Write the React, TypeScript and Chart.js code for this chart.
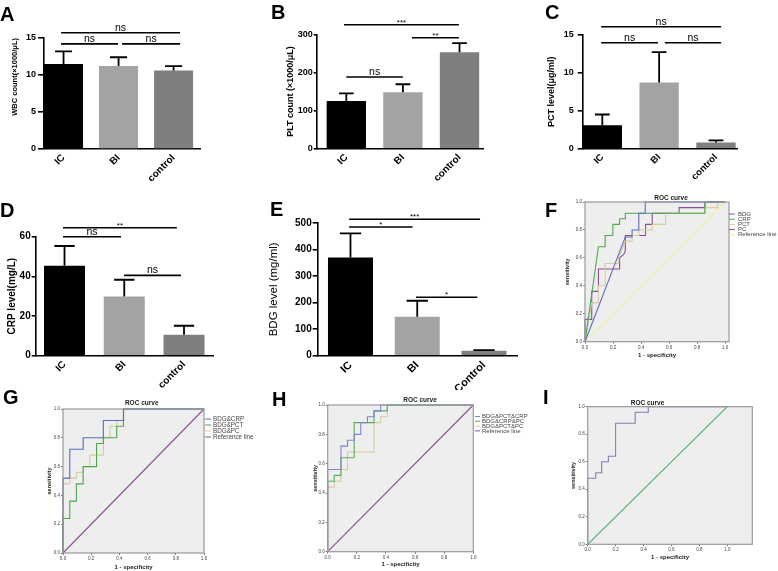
import React, { useEffect, useRef } from 'react';
import { Chart, registerables } from 'chart.js';
Chart.register(...registerables);

const FONT = "'Liberation Sans', Arial, sans-serif";

// ---------- bar panel data ----------
const groups = ['IC', 'BI', 'control'];
const groupsE = ['IC', 'BI', 'Control'];
const wbcMean = [11.5, 11.2, 10.6];
const wbcUpper = [13.2, 12.4, 11.2];
const pltMean = [125, 148, 253];
const pltUpper = [145, 169, 277];
const pctMean = [3.1, 8.7, 0.8];
const pctUpper = [4.5, 12.7, 1.1];
const crpMean = [45.4, 29.8, 10.6];
const crpUpper = [55.3, 38.3, 15.1];
const bdgMean = [370, 147, 19];
const bdgUpper = [461, 207, 21];

const wbcTicks = [0, 5, 10, 15];
const pltTicks = [0, 100, 200, 300];
const pctTicks = [0, 5, 10, 15];
const crpTicks = [0, 20, 40, 60];
const bdgTicks = [0, 100, 200, 300, 400, 500];

type Sig = [number, number, number, string];
const wbcSig: Sig[] = [[-0.045, 2.118, 15.7, 'ns'], [-0.045, 0.99, 14.2, 'ns'], [1.064, 2.118, 14.2, 'ns']];
const pltSig: Sig[] = [[-0.04, 1.99, 325, '***'], [1.16, 1.99, 291, '**'], [0, 1.0, 188, 'ns']];
const pctSig: Sig[] = [[-0.02, 2.09, 16.05, 'ns'], [-0.02, 0.98, 13.95, 'ns'], [1.1, 2.09, 13.95, 'ns']];
const crpSig: Sig[] = [[-0.025, 1.88, 64.5, '**'], [-0.025, 0.946, 60, 'ns'], [0.996, 1.95, 40.5, 'ns']];
const bdgSig: Sig[] = [[-0.02, 1.94, 514, '***'], [-0.02, 0.93, 485, '*'], [0.98, 1.9, 220, '*']];

// ---------- ROC data ----------
type Pt = [number, number];
const rocTicks = [0, 0.2, 0.4, 0.6, 0.8, 1.0];
const refLine: Pt[] = [[0, 0], [1, 1]];

const rocF_BDG: Pt[] = [[0, 0], [0.288, 0.75], [0.336, 0.75], [0.336, 0.8], [0.384, 0.8], [0.384, 0.92], [0.43, 0.92], [0.43, 1], [1, 1]];
const rocF_CRP: Pt[] = [[0, 0], [0.096, 0.68], [0.144, 0.68], [0.144, 0.76], [0.199, 0.76], [0.199, 0.84], [0.247, 0.84], [0.247, 0.88], [0.288, 0.88], [0.288, 0.92], [0.856, 0.92], [0.856, 1], [1, 1]];
const rocF_PCT: Pt[] = [[0, 0], [0.048, 0.28], [0.096, 0.28], [0.096, 0.4], [0.144, 0.4], [0.144, 0.56], [0.24, 0.56], [0.24, 0.6], [0.288, 0.72], [0.336, 0.72], [0.336, 0.76], [0.384, 0.76], [0.384, 0.8], [0.48, 0.8], [0.48, 0.84], [0.576, 0.84], [0.576, 0.92], [0.856, 0.92], [0.856, 0.96], [0.947, 0.96], [0.947, 1], [1, 1]];
const rocF_PC: Pt[] = [[0, 0], [0, 0.16], [0.048, 0.16], [0.048, 0.36], [0.096, 0.36], [0.096, 0.52], [0.247, 0.52], [0.247, 0.6], [0.276, 0.625], [0.288, 0.65], [0.288, 0.76], [0.432, 0.76], [0.432, 0.84], [0.48, 0.84], [0.48, 0.92], [0.672, 0.92], [0.672, 0.96], [0.856, 0.96], [0.856, 1], [1, 1]];

const rocG_BDG_CRP: Pt[] = [[0, 0], [0, 0.52], [0.048, 0.52], [0.048, 0.72], [0.143, 0.72], [0.143, 0.8], [0.286, 0.8], [0.286, 0.92], [0.429, 0.92], [0.429, 1], [1, 1]];
const rocG_BDG_PCT: Pt[] = [[0, 0], [0, 0.24], [0.048, 0.24], [0.048, 0.36], [0.095, 0.36], [0.095, 0.48], [0.143, 0.48], [0.143, 0.6], [0.238, 0.6], [0.238, 0.76], [0.286, 0.76], [0.286, 0.8], [0.381, 0.8], [0.381, 0.88], [0.429, 0.88], [0.429, 1], [1, 1]];
const rocG_BDG_PC: Pt[] = [[0, 0], [0, 0.48], [0.048, 0.48], [0.048, 0.52], [0.095, 0.52], [0.095, 0.56], [0.143, 0.56], [0.143, 0.6], [0.19, 0.6], [0.19, 0.68], [0.286, 0.68], [0.286, 0.8], [0.333, 0.8], [0.333, 0.88], [0.381, 0.88], [0.381, 0.92], [0.429, 0.92], [0.429, 1], [1, 1]];

const rocH_BDG_PCT_CRP: Pt[] = [[0, 0], [0, 0.56], [0.091, 0.56], [0.091, 0.72], [0.136, 0.72], [0.136, 0.76], [0.182, 0.76], [0.182, 0.8], [0.227, 0.8], [0.227, 0.88], [0.273, 0.88], [0.273, 0.92], [0.318, 0.92], [0.318, 0.96], [0.364, 0.96], [0.364, 1], [1, 1]];
const rocH_BDG_CRP_PC: Pt[] = [[0, 0], [0, 0.48], [0.045, 0.48], [0.045, 0.52], [0.091, 0.52], [0.091, 0.64], [0.182, 0.64], [0.182, 0.88], [0.318, 0.88], [0.318, 0.96], [0.409, 0.96], [0.409, 1], [1, 1]];
const rocH_BDG_PCT_PC: Pt[] = [[0, 0], [0, 0.44], [0.045, 0.44], [0.045, 0.48], [0.091, 0.48], [0.091, 0.56], [0.136, 0.56], [0.136, 0.68], [0.318, 0.68], [0.318, 0.88], [0.364, 0.88], [0.364, 0.92], [0.409, 0.92], [0.409, 1], [1, 1]];

const rocI_ALL: Pt[] = [[0, 0], [0, 0.48], [0.057, 0.48], [0.057, 0.52], [0.1, 0.52], [0.1, 0.6], [0.148, 0.6], [0.148, 0.64], [0.2, 0.64], [0.2, 0.88], [0.34, 0.88], [0.34, 0.96], [0.434, 0.96], [0.434, 1], [1, 1]];

const rocLabelsF = ['BDG', 'CRP', 'PCT', 'PC', 'Reference line'];
const rocLabelsG = ['BDG&CRP', 'BDG&PCT', 'BDG&PC', 'Reference line'];
const rocLabelsH = ['BDG&PCT&CRP', 'BDG&CRP&PC', 'BDG&PCT&PC', 'Reference line'];
const rocLabelsI = ['BDG&PCT&CRP&PC', 'Reference line'];

// ---------- styles ----------
const barColors = ['#000000', '#a3a3a5', '#7f7f7f'];
const cBlue = '#5a6cba';
const cGreen = '#4aa94e';
const cTan = '#d8cc9e';
const cPurple = '#8a4f95';
const cYellow = '#eeee9c';

interface BarSpec {
  box: number[]; area: number[]; cats: string[]; mean: number[]; upper: number[]; sig: Sig[];
  yTicks: number[]; xRange: number[]; barPct: number; title: string; titleFont: number;
  titleBold: boolean; titleAlign: string; titleX: number; tickFont: number; xFont: number;
  tickLen: number; tickPad: number; cap: number;
}

function barConfig(s: BarSpec): any {
  const [cl, ct, cw, ch] = s.box;
  const [al, at, ar, ab] = s.area;
  const lh = s.titleFont * 1.2;
  const padLeft = s.titleX - cl - lh / 2 - 1;
  const yWidth = al - cl - padLeft;
  const xHeight = ct + ch - ab;
  const annot = {
    id: 'annot',
    afterDatasetsDraw(chart: any) {
      const xs = chart.scales.x, ys = chart.scales.y, ctx = chart.ctx;
      ctx.save();
      ctx.strokeStyle = '#000';
      ctx.fillStyle = '#000';
      ctx.lineWidth = 1.8;
      s.mean.forEach((m, i) => {
        const px = xs.getPixelForValue(i);
        const half = xs.getPixelForValue(i + s.cap) - px;
        const y0 = ys.getPixelForValue(m);
        const y1 = ys.getPixelForValue(s.upper[i]);
        ctx.beginPath();
        ctx.moveTo(px, y0); ctx.lineTo(px, y1);
        ctx.moveTo(px - half, y1); ctx.lineTo(px + half, y1);
        ctx.stroke();
      });
      ctx.lineWidth = 1.6;
      s.sig.forEach(([a, b, lv, lab]) => {
        const y = ys.getPixelForValue(lv);
        const x1 = xs.getPixelForValue(a), x2 = xs.getPixelForValue(b);
        ctx.beginPath(); ctx.moveTo(x1, y); ctx.lineTo(x2, y); ctx.stroke();
        const star = lab.indexOf('*') >= 0;
        ctx.font = `${star ? 8 : 10.5}px ${FONT}`;
        ctx.textAlign = 'center';
        ctx.textBaseline = 'alphabetic';
        ctx.fillText(lab, (x1 + x2) / 2, y - (star ? 0 : 2));
      });
      ctx.restore();
    },
  };
  return {
    type: 'bar',
    data: {
      datasets: [{
        data: s.mean.map((v, i) => ({ x: i, y: v })),
        backgroundColor: barColors, borderWidth: 0,
        barPercentage: s.barPct, categoryPercentage: 1,
      }],
    },
    options: {
      responsive: false, animation: false, events: [],
      layout: { padding: { left: padLeft, top: at - ct, right: cl + cw - ar, bottom: 0 } },
      plugins: { legend: { display: false }, tooltip: { enabled: false }, title: { display: false } },
      scales: {
        x: {
          type: 'linear', min: s.xRange[0], max: s.xRange[1], offset: false,
          afterBuildTicks: (sc: any) => { sc.ticks = s.cats.map((_, i) => ({ value: i })); },
          afterFit: (sc: any) => { sc.height = xHeight; },
          grid: { display: false, drawTicks: false, offset: false },
          border: { display: true, color: '#000', width: 1.6 },
          ticks: {
            callback: (_v: any, i: number) => s.cats[i], minRotation: 45, maxRotation: 45,
            autoSkip: false, padding: 3, color: '#000',
            font: { family: FONT, size: s.xFont, weight: 'bold' },
          },
        },
        y: {
          type: 'linear', min: 0, max: s.yTicks[s.yTicks.length - 1],
          afterBuildTicks: (sc: any) => { sc.ticks = s.yTicks.map((v) => ({ value: v })); },
          afterFit: (sc: any) => { sc.width = yWidth; },
          grid: { display: true, drawOnChartArea: false, drawTicks: true, tickLength: s.tickLen, color: '#000', lineWidth: 1.6 },
          border: { display: true, color: '#000', width: 1.6 },
          ticks: { padding: s.tickPad, color: '#000', font: { family: FONT, size: s.tickFont, weight: 'bold' } },
          title: {
            display: true, text: s.title, align: s.titleAlign, color: '#000',
            padding: { top: 1, bottom: 0 },
            font: { family: FONT, size: s.titleFont, weight: s.titleBold ? 'bold' : 'normal' },
          },
        },
      },
    },
    plugins: [annot],
  };
}

interface RocSeries { label: string; pts: Pt[]; color: string; }
interface RocSpec {
  box: number[]; area: number[]; xMax: number; series: RocSeries[];
  yTitleX: number; xTitleY: number; titlePos: number[];
  legend: null | { x: number; y: number; dy: number; len: number; gap: number; size: number };
}

function rocConfig(s: RocSpec): any {
  const [cl, ct, cw, ch] = s.box;
  const [al, at, ar, ab] = s.area;
  const ylh = 5.5 * 1.2;
  const padLeft = s.yTitleX - cl - ylh / 2 - 1;
  const yWidth = al - cl - padLeft;
  const xlh = 6 * 1.2;
  const scaleBottom = s.xTitleY + xlh / 2;
  const padBottom = Math.max(0, ct + ch - scaleBottom);
  const xHeight = ct + ch - padBottom - ab;
  const deco = {
    id: 'deco',
    beforeDraw(chart: any) {
      const { ctx, chartArea: a } = chart;
      ctx.save();
      ctx.fillStyle = '#eeeeee';
      ctx.fillRect(a.left, a.top, a.right - a.left, a.bottom - a.top);
      ctx.restore();
    },
    afterDatasetsDraw(chart: any) {
      const { ctx, chartArea: a } = chart;
      ctx.save();
      ctx.strokeStyle = '#9a9a9a';
      ctx.lineWidth = 1.2;
      ctx.strokeRect(a.left, a.top, a.right - a.left, a.bottom - a.top);
      ctx.fillStyle = '#222';
      ctx.font = `bold 6.5px ${FONT}`;
      ctx.textAlign = 'center';
      ctx.textBaseline = 'middle';
      ctx.fillText('ROC curve', s.titlePos[0] - cl, s.titlePos[1] - ct);
      if (s.legend) {
        const L = s.legend;
        ctx.font = `${L.size}px ${FONT}`;
        ctx.textAlign = 'left';
        s.series.forEach((ser, i) => {
          const y = L.y - ct + i * L.dy;
          ctx.strokeStyle = ser.color;
          ctx.lineWidth = 1;
          ctx.beginPath(); ctx.moveTo(L.x - cl, y); ctx.lineTo(L.x - cl + L.len, y); ctx.stroke();
          ctx.fillStyle = '#444';
          ctx.fillText(ser.label, L.x - cl + L.len + L.gap, y);
        });
      }
      ctx.restore();
    },
  };
  const tickOpts = { padding: 1, color: '#444', font: { family: FONT, size: 4.5 } };
  return {
    type: 'line',
    data: {
      datasets: s.series.map((ser) => ({
        label: ser.label,
        data: ser.pts.map(([x, y]) => ({ x, y })),
        borderColor: ser.color, borderWidth: 1.1, pointRadius: 0, tension: 0, fill: false, clip: 3,
      })),
    },
    options: {
      responsive: false, animation: false, events: [],
      layout: { padding: { left: padLeft, top: at - ct, right: cl + cw - ar, bottom: padBottom } },
      plugins: { legend: { display: false }, tooltip: { enabled: false }, title: { display: false } },
      scales: {
        x: {
          type: 'linear', min: 0, max: s.xMax,
          afterBuildTicks: (sc: any) => { sc.ticks = rocTicks.map((v) => ({ value: v })); },
          afterFit: (sc: any) => { sc.height = xHeight; },
          grid: { display: true, drawOnChartArea: false, drawTicks: true, tickLength: 2, color: '#777' },
          border: { display: false },
          ticks: { ...tickOpts, maxRotation: 0, minRotation: 0, callback: (v: any) => Number(v).toFixed(1) },
          title: { display: true, text: '1 - specificity', color: '#222', padding: 0, font: { family: FONT, size: 6, weight: 'bold' } },
        },
        y: {
          type: 'linear', min: 0, max: 1,
          afterBuildTicks: (sc: any) => { sc.ticks = rocTicks.map((v) => ({ value: v })); },
          afterFit: (sc: any) => { sc.width = yWidth; },
          grid: { display: true, drawOnChartArea: false, drawTicks: true, tickLength: 2, color: '#777' },
          border: { display: false },
          ticks: { ...tickOpts, callback: (v: any) => Number(v).toFixed(1) },
          title: { display: true, text: 'sensitivity', color: '#222', padding: { top: 1, bottom: 0 }, font: { family: FONT, size: 5.5, weight: 'bold' } },
        },
      },
    },
    plugins: [deco],
  };
}

const barSpecs: BarSpec[] = [
  { box: [0, 0, 260, 190], area: [44, 38, 200, 149], cats: groups, mean: wbcMean, upper: wbcUpper, sig: wbcSig,
    yTicks: wbcTicks, xRange: [-0.355, 2.48], barPct: 0.709, title: 'WBC count(×1000/μL)', titleFont: 7.5, titleBold: true,
    titleAlign: 'end', titleX: 15, tickFont: 9, xFont: 10, tickLen: 6, tickPad: 2, cap: 0.155 },
  { box: [260, 0, 260, 190], area: [316.7, 34.3, 483, 148.7], cats: groups, mean: pltMean, upper: pltUpper, sig: pltSig,
    yTicks: pltTicks, xRange: [-0.523, 2.415], barPct: 0.695, title: 'PLT count (×1000/μL)', titleFont: 9, titleBold: true,
    titleAlign: 'center', titleX: 291, tickFont: 9, xFont: 10, tickLen: 3, tickPad: 1, cap: 0.13 },
  { box: [520, 0, 258, 190], area: [582.7, 34.7, 737, 148.7], cats: groups, mean: pctMean, upper: pctUpper, sig: pctSig,
    yTicks: pctTicks, xRange: [-0.345, 2.37], barPct: 0.692, title: 'PCT level(μg/ml)', titleFont: 9, titleBold: true,
    titleAlign: 'center', titleX: 552, tickFont: 9, xFont: 9.5, tickLen: 5, tickPad: 4, cap: 0.13 },
  { box: [0, 190, 260, 200], area: [35.7, 236.7, 213, 355.7], cats: groups, mean: crpMean, upper: crpUpper, sig: crpSig,
    yTicks: crpTicks, xRange: [-0.482, 2.485], barPct: 0.686, title: 'CRP level(mg/L)', titleFont: 10, titleBold: true,
    titleAlign: 'center', titleX: 12, tickFont: 10, xFont: 10, tickLen: 4, tickPad: 1, cap: 0.17 },
  { box: [260, 190, 260, 200], area: [317.7, 223, 517, 355.7], cats: groupsE, mean: bdgMean, upper: bdgUpper, sig: bdgSig,
    yTicks: bdgTicks, xRange: [-0.491, 2.494], barPct: 0.674, title: 'BDG level (mg/ml)', titleFont: 11.5, titleBold: false,
    titleAlign: 'center', titleX: 274, tickFont: 10, xFont: 11, tickLen: 5, tickPad: 1, cap: 0.16 },
];

const rocSpecs: RocSpec[] = [
  { box: [520, 190, 258, 190], area: [585, 202, 729, 341.7], xMax: 1.028,
    series: [
      { label: rocLabelsF[0], pts: rocF_BDG, color: cBlue },
      { label: rocLabelsF[1], pts: rocF_CRP, color: cGreen },
      { label: rocLabelsF[2], pts: rocF_PCT, color: cTan },
      { label: rocLabelsF[3], pts: rocF_PC, color: cPurple },
      { label: rocLabelsF[4], pts: refLine, color: cYellow },
    ],
    yTitleX: 567.7, xTitleY: 355.7, titlePos: [671, 198.5],
    legend: { x: 729, y: 214, dy: 5.2, len: 6, gap: 3, size: 6 } },
  { box: [0, 380, 260, 191], area: [63, 409, 204, 553], xMax: 1,
    series: [
      { label: rocLabelsG[0], pts: rocG_BDG_CRP, color: cBlue },
      { label: rocLabelsG[1], pts: rocG_BDG_PCT, color: cGreen },
      { label: rocLabelsG[2], pts: rocG_BDG_PC, color: cTan },
      { label: rocLabelsG[3], pts: refLine, color: cPurple },
    ],
    yTitleX: 49.3, xTitleY: 567, titlePos: [141.7, 403],
    legend: { x: 205, y: 419, dy: 6, len: 6, gap: 2, size: 6.3 } },
  { box: [260, 380, 280, 191], area: [327.7, 405, 473.3, 551.7], xMax: 1,
    series: [
      { label: rocLabelsH[0], pts: rocH_BDG_PCT_CRP, color: '#7d87c8' },
      { label: rocLabelsH[1], pts: rocH_BDG_CRP_PC, color: '#55ae59' },
      { label: rocLabelsH[2], pts: rocH_BDG_PCT_PC, color: cTan },
      { label: rocLabelsH[3], pts: refLine, color: cPurple },
    ],
    yTitleX: 315, xTitleY: 564, titlePos: [420, 400.5],
    legend: { x: 475, y: 416.5, dy: 4.8, len: 5, gap: 2, size: 6 } },
  { box: [520, 380, 258, 191], area: [587.7, 406.7, 752.3, 544.3], xMax: 1.179,
    series: [
      { label: rocLabelsI[0], pts: rocI_ALL, color: '#7c80b9' },
      { label: rocLabelsI[1], pts: refLine, color: '#4cae6a' },
    ],
    yTitleX: 573.3, xTitleY: 557.7, titlePos: [647.5, 403], legend: null },
];

const panelLetters: [string, number, number][] = [
  ['A', 0, 7], ['B', 271, 5], ['C', 545, 5], ['D', 0, 203], ['E', 270, 202],
  ['F', 545, 203], ['G', 3, 390], ['H', 272, 392], ['I', 543, 390],
];

function ChartCanvas({ box, make }: { box: number[]; make: () => any }) {
  const ref = useRef<HTMLCanvasElement>(null);
  useEffect(() => {
    const chart = new Chart(ref.current as HTMLCanvasElement, make());
    return () => chart.destroy();
  }, []);
  const [l, t, w, h] = box;
  return (
    <canvas ref={ref} width={w} height={h}
      style={{ position: 'absolute', left: l, top: t, width: w, height: h, display: 'block' }} />
  );
}

export default function App() {
  return (
    <div style={{ position: 'absolute', left: 0, top: 0, width: 778, height: 571, background: '#fff', overflow: 'hidden' }}>
      {barSpecs.map((s, i) => (
        <ChartCanvas key={'b' + i} box={s.box} make={() => barConfig(s)} />
      ))}
      {rocSpecs.map((s, i) => (
        <ChartCanvas key={'r' + i} box={s.box} make={() => rocConfig(s)} />
      ))}
      {panelLetters.map(([t, x, y]) => (
        <div key={t} style={{
          position: 'absolute', left: x, top: y - 2.6, font: `bold 20px ${FONT}`, lineHeight: '20px', color: '#000',
        }}>{t}</div>
      ))}
    </div>
  );
}
